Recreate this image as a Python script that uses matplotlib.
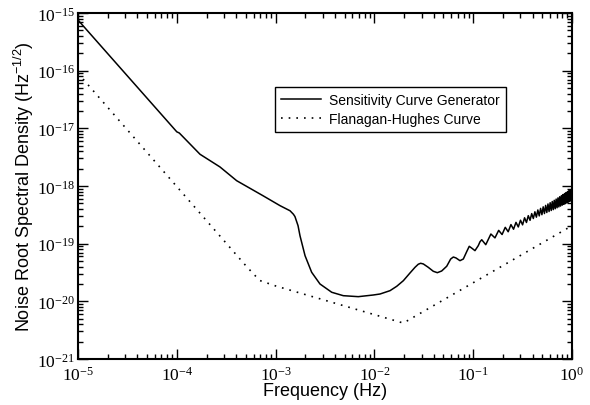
import numpy as np
import matplotlib
matplotlib.use("Agg")
import matplotlib.pyplot as plt
from matplotlib.ticker import LogLocator, FuncFormatter, NullFormatter

plt.rcParams['mathtext.fontset'] = 'custom'
plt.rcParams['mathtext.rm'] = 'Liberation Serif'
plt.rcParams['mathtext.sf'] = 'Liberation Sans'
plt.rcParams['font.family'] = ['Liberation Sans', 'DejaVu Sans']

# Sensitivity Curve Generator (solid)
scg_freq = [1.0e-5, 1.0e-4, 1.06e-4, 1.718e-4, 2.735e-4, 4.036e-4, 7.447e-4,
            1.109e-3, 1.40e-3, 1.514e-3, 1.57e-3, 1.687e-3, 1.766e-3, 1.986e-3,
            2.317e-3, 2.812e-3, 3.698e-3, 4.842e-3, 6.871e-3, 9.75e-3,
            0.0114, 0.01439, 0.01683, 0.01963, 0.02291, 0.02576, 0.0278,
            0.02938, 0.03126, 0.03508, 0.03945, 0.04335, 0.04797, 0.05395,
            0.05916, 0.06295, 0.06699, 0.07345, 0.07943, 0.0859, 0.0912,
            0.09727, 0.1042, 0.1125, 0.1172, 0.122, 0.134, 0.151,
            0.166, 0.181, 0.196, 0.211, 0.226, 0.241, 0.256, 0.271, 0.286,
            0.301, 0.316, 0.331, 0.346, 0.361, 0.376, 0.391, 0.406, 0.421,
            0.436, 0.451, 0.466, 0.481, 0.496, 0.511, 0.526, 0.541, 0.556,
            0.571, 0.586, 0.601, 0.616, 0.631, 0.646, 0.661, 0.676, 0.691,
            0.706, 0.721, 0.736, 0.751, 0.766, 0.781, 0.796, 0.811, 0.826,
            0.841, 0.856, 0.871, 0.886, 0.901, 0.916, 0.931, 0.946, 0.961,
            0.976, 0.991, 1.0]
scg_noise = [7.56e-16, 8.7e-18, 8.3e-18, 3.55e-18, 2.14e-18, 1.236e-18, 6.79e-19,
             4.56e-19, 3.72e-19, 3.24e-19, 2.95e-19, 2.05e-19, 1.37e-19, 6.19e-20,
             3.19e-20, 2.0e-20, 1.436e-20, 1.253e-20, 1.205e-20, 1.288e-20,
             1.34e-20, 1.531e-20, 1.824e-20, 2.28e-20, 3.10e-20, 3.89e-20, 4.40e-20,
             4.57e-20, 4.45e-20, 3.89e-20, 3.32e-20, 3.14e-20, 3.36e-20, 4.06e-20,
             5.42e-20, 5.87e-20, 5.65e-20, 5.07e-20, 5.42e-20, 7.26e-20, 9.0e-20,
             8.30e-20, 7.57e-20, 9.23e-20, 1.08e-19, 1.17e-19, 9.6e-20, 1.47e-19,
             1.26e-19, 1.70e-19, 1.44e-19, 1.92e-19, 1.61e-19, 2.14e-19, 1.78e-19,
             2.34e-19, 1.95e-19, 2.55e-19, 2.12e-19, 2.81e-19, 2.33e-19, 3.06e-19,
             2.54e-19, 3.32e-19, 2.73e-19, 3.57e-19, 2.88e-19, 3.84e-19, 3.03e-19,
             4.09e-19, 3.18e-19, 4.35e-19, 3.33e-19, 4.61e-19, 3.47e-19, 4.88e-19,
             3.61e-19, 5.13e-19, 3.76e-19, 5.39e-19, 3.89e-19, 5.65e-19, 4.03e-19,
             5.93e-19, 4.19e-19, 6.22e-19, 4.34e-19, 6.52e-19, 4.49e-19, 6.81e-19,
             4.65e-19, 7.10e-19, 4.80e-19, 7.40e-19, 4.94e-19, 7.69e-19, 5.09e-19,
             8.00e-19, 5.25e-19, 8.28e-19, 5.40e-19, 8.59e-19, 5.55e-19, 8.89e-19,
             7.0e-19]

# Flanagan-Hughes curve (dotted)
fh_freq = [1.0e-5, 5.09e-4, 6.9e-4, 1.0e-3, 1.963e-2, 1.0]
fh_noise = [9.0e-17, 4.0e-20, 2.3e-20, 1.85e-20, 4.2e-21, 2.05e-19]

fig = plt.figure(figsize=(5.9, 4.06), dpi=100)
ax = fig.add_axes([0.1322, 0.1133, 0.8373, 0.8522])

ax.loglog(scg_freq, scg_noise, color='black', lw=1.1, label='Sensitivity Curve Generator')
ax.loglog(fh_freq, fh_noise, color='black', lw=1.2, linestyle=(0, (1, 3.6)),
          label='Flanagan-Hughes Curve')

ax.set_xlim(1e-5, 1)
ax.set_ylim(1e-21, 1e-15)

def sci_label(v, pos):
    return r'$\mathrm{10^{%d}}$' % int(round(np.log10(v)))

for axis in (ax.xaxis, ax.yaxis):
    axis.set_major_locator(LogLocator(base=10, numticks=20))
    axis.set_minor_locator(LogLocator(base=10, subs=np.arange(2, 10), numticks=20))
    axis.set_major_formatter(FuncFormatter(sci_label))
    axis.set_minor_formatter(NullFormatter())

ax.tick_params(which='both', direction='in', top=True, right=True, width=1.0)
ax.tick_params(which='major', length=7, labelsize=12.5, pad=4)
ax.tick_params(which='minor', length=3.6)
ax.tick_params(axis='y', which='major', pad=2)
for s in ax.spines.values():
    s.set_linewidth(1.5)

ax.set_xlabel('Frequency (Hz)', fontsize=13, labelpad=0)
ax.set_ylabel(r'Noise Root Spectral Density (Hz$^{\mathsf{-1/2}}$)', fontsize=13, labelpad=1)

leg = ax.legend(loc='upper left', bbox_to_anchor=(0.399, 0.786), borderaxespad=0,
                fontsize=10, fancybox=False, framealpha=1, edgecolor='black',
                handlelength=2.9, handletextpad=0.6, labelspacing=0.4, borderpad=0.4)
leg.get_frame().set_linewidth(1.0)

fig.savefig('out.png', dpi=100)
